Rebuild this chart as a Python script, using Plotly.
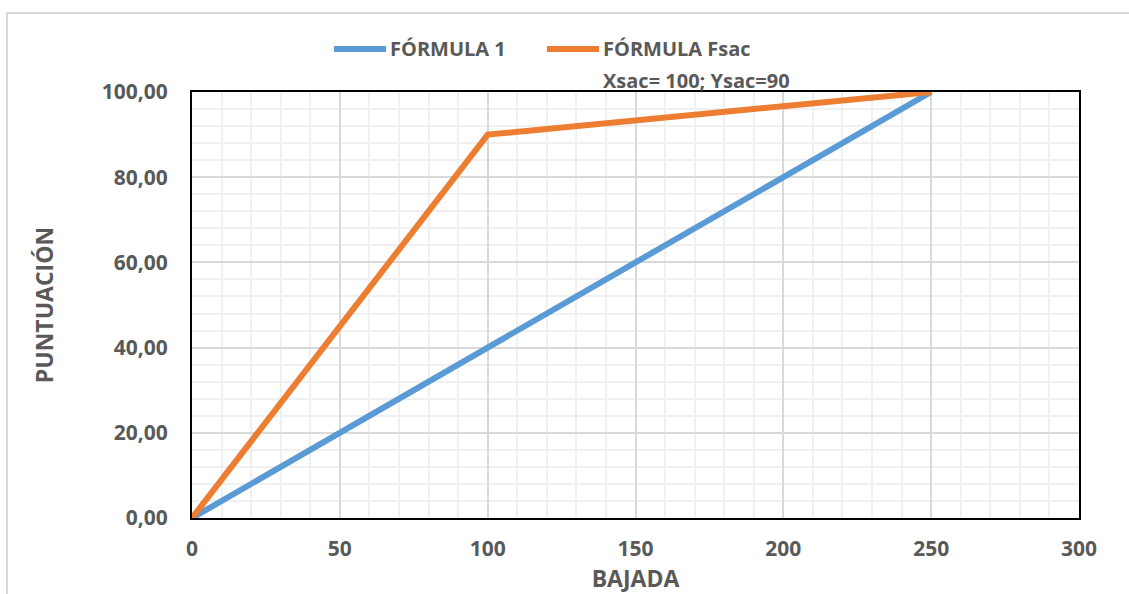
import plotly.graph_objects as go

# Data
bajada_f1 = [0, 250]
punt_f1 = [0, 100]
bajada_fsac = [0, 100, 250]
punt_fsac = [0, 90, 100]
name_f1 = "FÓRMULA 1"
name_fsac = "FÓRMULA Fsac"
note_fsac = "Xsac= 100; Ysac=90"
x_title = "BAJADA"
y_title = "PUNTUACIÓN"

W, H = 1129, 594
L, R, T, B = 192, 50, 92, 76
pw, ph = W - L - R, H - T - B

GRAY = "#595959"
BLUE = "#5b9bd5"
ORANGE = "#ed7d31"
FONT = "Open Sans"


def px(x):
    return (x - L) / pw


def py(y):
    return 1 - (y - T) / ph


fig = go.Figure()
fig.add_trace(go.Scatter(x=bajada_f1, y=punt_f1, mode="lines", name=name_f1,
                         line=dict(color=BLUE, width=6)))
fig.add_trace(go.Scatter(x=bajada_fsac, y=punt_fsac, mode="lines",
                         name=name_fsac + "<br>" + note_fsac,
                         line=dict(color=ORANGE, width=6)))

# outer chart border
fig.add_shape(type="rect", xref="paper", yref="paper",
              x0=px(7), x1=px(W + 10), y0=py(H + 10), y1=py(13),
              line=dict(color="#d9d9d9", width=2), layer="below")

# legend (drawn manually to match the symbol length and spacing)
leg_font = dict(family=FONT, size=20, color=GRAY, weight="bold")
for (x0, x1, col) in [(334, 386, BLUE), (547, 599, ORANGE)]:
    fig.add_shape(type="line", xref="paper", yref="paper",
                  x0=px(x0), x1=px(x1), y0=py(49), y1=py(49),
                  line=dict(color=col, width=6))
for (x, y, txt) in [(388, 49, name_f1), (601, 49, name_fsac), (601, 80, note_fsac)]:
    fig.add_annotation(xref="paper", yref="paper", x=px(x), y=py(y), text=txt,
                       showarrow=False, xanchor="left", yanchor="middle",
                       font=leg_font)

fig.update_layout(
    width=W, height=H,
    margin=dict(l=L, r=R, t=T, b=B, autoexpand=False),
    paper_bgcolor="white", plot_bgcolor="white",
    separators=",.",
    font=dict(family=FONT, color=GRAY, size=20, weight="bold"),
    showlegend=False,
    xaxis=dict(range=[0, 300], dtick=50, tick0=0, automargin=False,
               showgrid=True, gridcolor="#d9d9d9", gridwidth=1.5,
               minor=dict(dtick=10, showgrid=True, gridcolor="#f0f0f0", gridwidth=1.5),
               showline=True, linecolor="black", linewidth=2, mirror=True,
               ticks="outside", ticklen=11, tickcolor="rgba(0,0,0,0)",
               zeroline=False,
               tickfont=dict(family=FONT, size=21, color=GRAY, weight="bold"),
               title=dict(text=x_title, standoff=6,
                          font=dict(family=FONT, size=23, color=GRAY, weight="bold"))),
    yaxis=dict(range=[0, 100], dtick=20, tick0=0, tickformat=".2f", automargin=False,
               showgrid=True, gridcolor="#d9d9d9", gridwidth=1.5,
               minor=dict(dtick=4, showgrid=True, gridcolor="#f0f0f0", gridwidth=1.5),
               showline=True, linecolor="black", linewidth=2, mirror=True,
               ticks="outside", ticklen=18, tickcolor="rgba(0,0,0,0)",
               zeroline=False,
               tickfont=dict(family=FONT, size=21, color=GRAY, weight="bold"),
               title=dict(text=y_title, standoff=42,
                          font=dict(family=FONT, size=23, color=GRAY, weight="bold"))),
)

fig.write_html("out.html", config={"displayModeBar": False},
               post_script="document.body.style.margin='0';document.body.style.overflow='hidden';")
